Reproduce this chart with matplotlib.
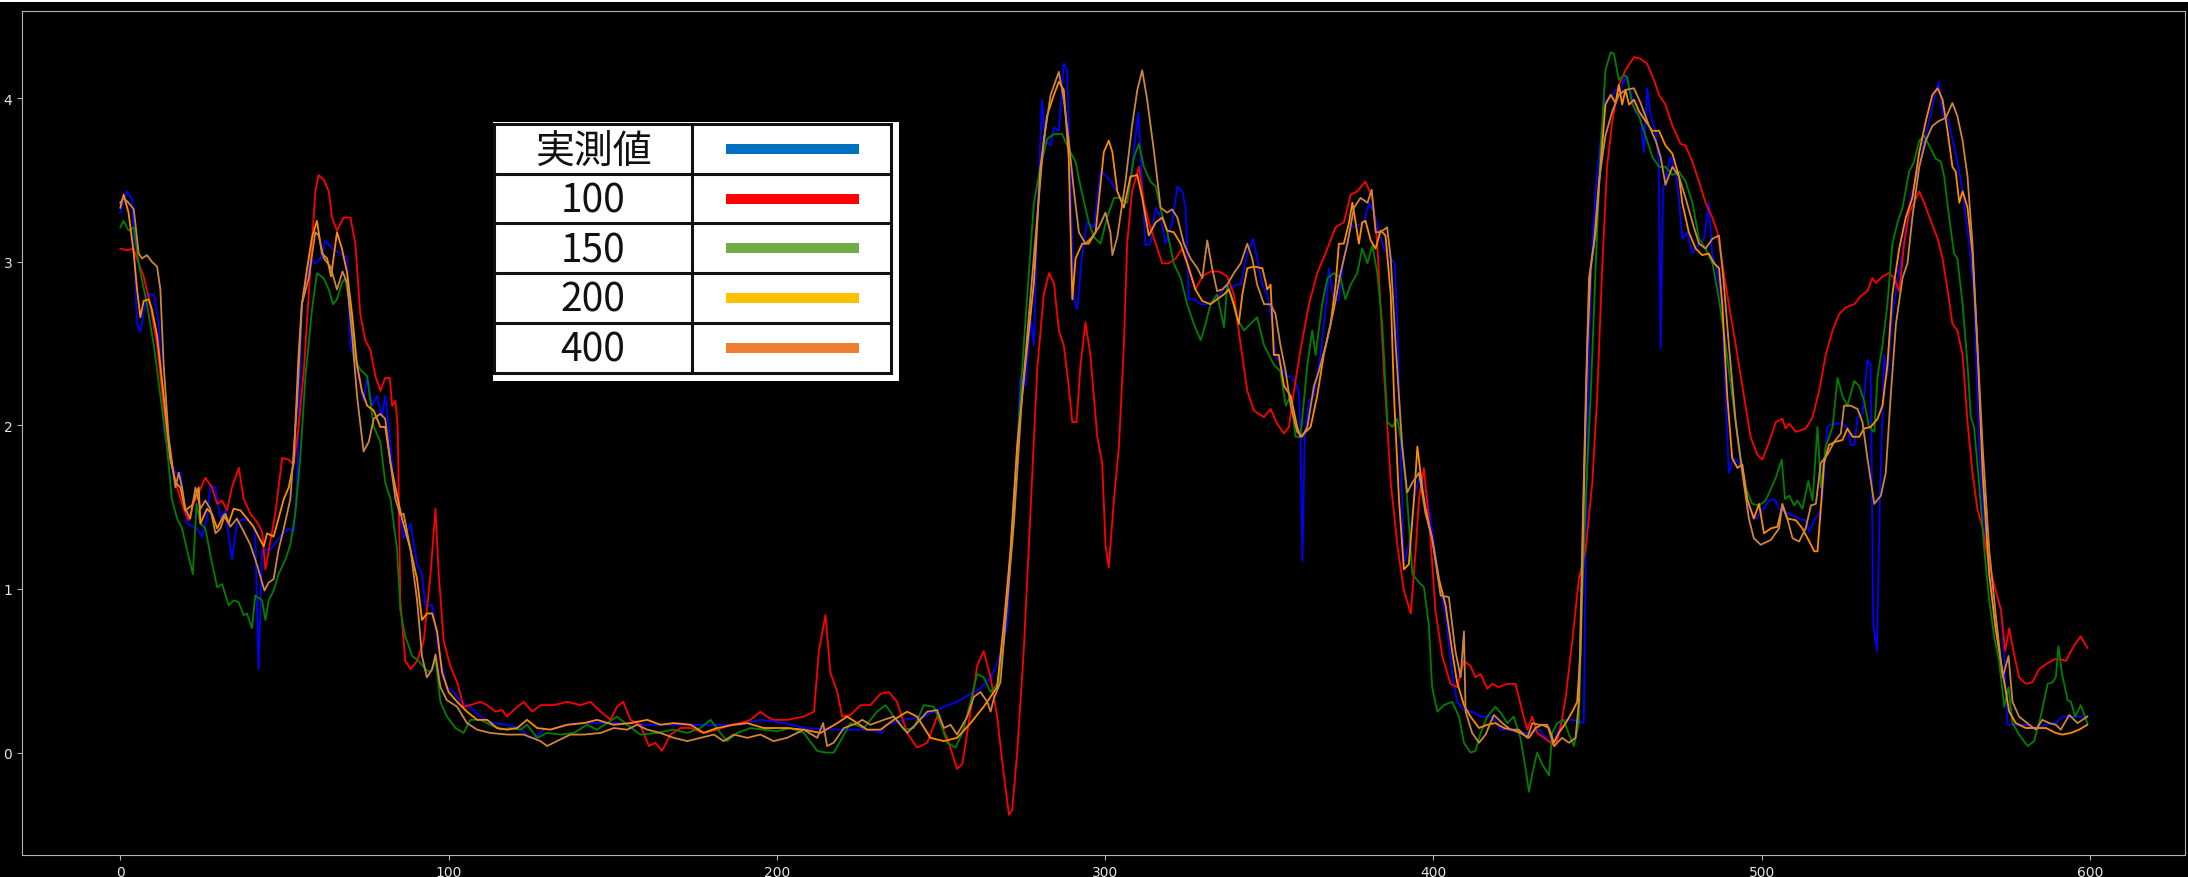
import matplotlib
matplotlib.use("Agg")
import matplotlib.pyplot as plt
from matplotlib.patches import Rectangle

# ---------------------------------------------------
# Data: (x, y) pairs per series
# ---------------------------------------------------
measured = [(0,3.30),(2,3.43),(3.6,3.38),(5.1,2.62),(6.1,2.57),(8.1,2.80),(10.2,2.80),(11.7,2.62),(13.2,1.99),(14.7,1.80),(16.8,1.71),(18.3,1.71),(20.3,1.40),(23.4,1.37),(24.9,1.32),(26.4,1.43),(27.4,1.63),(28.9,1.62),(30.5,1.43),(32,1.48),(34,1.18),(35.5,1.40),(37.6,1.43),(40.1,1.40),(41.1,1.34),(42.1,0.51),(43.2,1.24),(45.7,1.24),(48.7,1.32),(51.3,1.37),(52.8,1.35),(53.8,1.62),(55.3,2.74),(56.9,2.90),(57.9,3.02),(59.4,2.99),(61,3.02),(62.5,3.13),(64.5,3.08),(67,3.05),(69.1,3.02),(70.1,2.49),(72.1,2.34),(74.1,2.15),(75.2,2.30),(76.7,2.12),(78.2,2.18),(79.7,2.05),(80.7,2.18),(81.8,1.99),(83.3,1.65),(86.3,1.31),(88.4,1.40),(90.4,1.15),(91.9,1.09),(92.9,0.90),(95,0.90),(97,0.62),(99.5,0.40),(101.6,0.37),(103.6,0.31),(106.6,0.28),(109.7,0.22),(113.7,0.18),(117.8,0.17),(121.9,0.15),(124.4,0.09),(126.4,0.09),(129,0.14),(133,0.15),(138.1,0.18),(143.2,0.18),(148.3,0.18),(154.4,0.18),(160.5,0.17),(168.6,0.17),(178.8,0.17),(188.9,0.17),(195,0.20),(202.6,0.18),(208.2,0.15),(218.4,0.14),(228.5,0.14),(232.1,0.12),(233.1,0.17),(238.7,0.20),(244.8,0.22),(250.9,0.28),(254.9,0.31),(259,0.36),(262,0.39),(265.1,0.46),(267.1,0.54),(269.1,0.68),(270.2,0.78),(271.7,1.40),(273.2,1.87),(274.2,2.30),(275.7,2.24),(277.3,2.65),(278.3,2.49),(279.3,3.27),(280.8,3.99),(281.8,3.74),(283.4,3.71),(284.4,3.82),(285.9,3.80),(287.4,4.21),(288.4,4.17),(289.5,3.43),(290.5,2.77),(291.5,2.71),(293,3.05),(294.5,3.24),(296.6,3.21),(298.6,3.55),(300.6,3.52),(302.7,3.46),(304.7,3.39),(306.7,3.39),(308.2,3.58),(310.1,3.91),(311,3.58),(312.3,3.10),(313.8,3.11),(315.4,3.33),(316.9,3.27),(318.4,3.11),(320.4,3.24),(322,3.46),(323.5,3.43),(324.5,3.33),(325.5,2.77),(327,2.77),(329.1,2.74),(331.1,2.74),(333.1,2.77),(334.7,2.79),(336.7,2.86),(338.2,2.83),(339.7,2.86),(341.3,2.86),(343.3,3.05),(345.1,3.14),(346.3,3.02),(347.9,2.86),(349.4,2.80),(350.9,2.62),(351.9,2.43),(353.4,2.37),(355,2.30),(356.5,2.30),(358,2.26),(359,2.21),(359.5,1.93),(360.1,1.17),(360.8,1.93),(362.1,2.15),(363.6,2.18),(365.6,2.43),(367.2,2.71),(368.2,2.96),(369.7,2.76),(371.2,2.77),(372.7,3.02),(374.8,3.21),(376.8,3.22),(378.8,3.24),(380.4,3.36),(381.9,3.30),(383.4,3.18),(384.9,3.08),(387,3.02),(388.2,2.99),(389,2.62),(390,1.87),(391,1.15),(392.5,1.27),(394.1,1.55),(395.6,1.68),(397.6,1.62),(399.1,1.43),(400.6,1.21),(402.2,0.99),(403.7,0.84),(405.7,0.49),(407.2,0.31),(409.3,0.26),(411.8,0.25),(414.4,0.22),(417.9,0.22),(420.5,0.14),(423,0.14),(426,0.12),(429.1,0.12),(432.1,0.14),(435.2,0.07),(437.2,0.09),(439.2,0.20),(442.3,0.20),(445.8,0.18),(446.4,1.24),(447.4,2.49),(448.4,3.11),(449.4,3.43),(450.9,3.74),(452.4,3.99),(454,4.00),(455.5,4.05),(457,4.05),(458.5,4.13),(460,4.05),(461.6,3.91),(463.1,3.89),(464.1,3.67),(465.1,4.06),(466.2,3.89),(467.7,3.80),(468.7,3.58),(469.2,2.47),(469.9,3.43),(471.2,3.55),(472.2,3.64),(473.8,3.55),(474.8,3.39),(475.8,3.14),(477.3,3.18),(478.9,3.05),(480.9,3.11),(482.4,3.14),(483.9,3.36),(484.9,3.05),(486.5,2.93),(488,2.71),(489,2.18),(490,1.71),(491.5,1.80),(493.1,1.77),(494.6,1.68),(496.1,1.49),(498.2,1.43),(500.2,1.48),(502.3,1.54),(503.8,1.55),(505.3,1.49),(508.4,1.46),(511.4,1.43),(513.4,1.42),(514.5,1.35),(516,1.42),(517.5,1.46),(518.5,1.55),(520,1.99),(521.6,2.01),(524.1,2.01),(526.1,1.99),(527.1,1.88),(528.2,1.88),(529.2,2.05),(530.7,2.07),(532.2,2.40),(533.2,2.37),(534,0.78),(535.1,0.62),(536,1.55),(537.3,2.43),(538.3,2.30),(539.8,2.68),(541.4,2.90),(542.9,3.05),(544.4,3.29),(545.9,3.43),(548,3.58),(549.5,3.74),(551,3.86),(552.5,3.99),(554,4.10),(555.3,3.89),(556.6,3.88),(558.1,3.75),(559.6,3.61),(561.2,3.43),(563.2,3.11),(564.7,2.80),(566.2,1.87),(567.8,1.40),(569.3,1.09),(571.3,0.99),(572.9,0.87),(573.9,0.59),(574.9,0.17),(577.4,0.17),(580.5,0.17),(583.5,0.15),(586.6,0.17),(589.6,0.18),(591.6,0.22),(594.7,0.22),(597.2,0.22),(599.2,0.22)]

pred_100 = [(0,3.08),(2,3.07),(4,3.08),(5.6,2.99),(7.1,2.91),(9.1,2.74),(11.2,2.49),(13.2,2.12),(15.2,1.80),(17.3,1.62),(19.3,1.49),(20.8,1.42),(22.3,1.52),(23.9,1.59),(25.9,1.68),(27.9,1.62),(29.5,1.52),(31,1.54),(32.5,1.48),(34,1.62),(36.1,1.74),(37.6,1.55),(39.6,1.46),(41.6,1.41),(43.2,1.35),(44.2,1.12),(45.7,1.29),(47.2,1.46),(49.3,1.80),(51.3,1.79),(52.8,1.76),(54.3,1.99),(55.9,2.33),(57.9,2.96),(59.4,3.43),(60.4,3.53),(62,3.50),(63.5,3.43),(64.5,3.27),(66,3.19),(68,3.27),(70.1,3.27),(71.6,3.11),(73.1,2.68),(74.6,2.52),(76.2,2.46),(77.7,2.30),(79.2,2.21),(80.7,2.29),(82.1,2.29),(82.8,2.12),(83.8,2.15),(84.5,1.99),(85.3,0.93),(86.8,0.56),(88.4,0.51),(90.4,0.56),(92.4,0.68),(94.5,1.09),(96,1.49),(97,1.09),(98.5,0.68),(100.5,0.53),(102.6,0.43),(104.6,0.28),(106.6,0.29),(109.7,0.31),(111.7,0.29),(114.3,0.25),(116.3,0.26),(117.8,0.22),(119.8,0.26),(122.9,0.31),(125.4,0.25),(128,0.29),(132,0.29),(136.1,0.31),(140.2,0.29),(143.2,0.31),(146.3,0.25),(149.3,0.20),(151.3,0.28),(153.2,0.31),(155.4,0.20),(158.4,0.17),(161,0.04),(163,0.06),(165,0.01),(167.6,0.11),(170.6,0.15),(173.7,0.15),(177.7,0.12),(181.8,0.14),(185.9,0.17),(188.9,0.18),(192,0.20),(195,0.25),(197,0.22),(199,0.20),(203.1,0.20),(208.2,0.22),(211.3,0.25),(212.8,0.62),(214.8,0.84),(216.3,0.49),(218.4,0.37),(219.9,0.22),(222.4,0.23),(225.5,0.29),(228.5,0.29),(231.6,0.36),(234.1,0.37),(236.6,0.31),(239.7,0.12),(242.7,0.03),(245.8,0.06),(248.8,0.22),(251.9,0.09),(254.9,-0.10),(256.5,-0.07),(259,0.25),(261,0.53),(263,0.62),(265.1,0.46),(267.1,0.22),(269.1,-0.13),(270.7,-0.38),(271.7,-0.35),(273.2,0.0),(275.2,0.62),(277.3,1.49),(279.3,2.34),(281.3,2.80),(282.9,2.93),(284.4,2.87),(285.9,2.58),(287.4,2.49),(288.9,2.24),(290,2.02),(291.3,2.02),(292.5,2.37),(294,2.63),(295.5,2.43),(297.6,1.93),(299.1,1.77),(300.1,1.27),(301.1,1.13),(302.7,1.55),(304.2,1.87),(305.7,2.49),(306.7,3.11),(308.2,3.43),(310.3,3.58),(311.8,3.36),(313.3,3.24),(315.4,3.11),(317.4,2.99),(319.4,2.99),(321.5,3.02),(323.5,3.08),(325.5,2.96),(327.5,2.83),(329.6,2.91),(332.1,2.94),(334.7,2.94),(337.2,2.91),(339.2,2.80),(341.3,2.49),(343.3,2.21),(345.3,2.09),(348.4,2.05),(350.4,2.10),(352.4,2.01),(354.5,1.95),(356,1.99),(357.5,2.21),(359.5,2.46),(362.1,2.74),(364.6,2.93),(367.7,3.08),(370.2,3.21),(372.7,3.24),(374.8,3.41),(376.8,3.43),(379.3,3.49),(381.4,3.39),(382.9,3.11),(384.9,2.34),(387,1.65),(389,1.27),(391,0.99),(393.1,0.85),(394.6,1.24),(395.6,1.55),(397.1,1.74),(399.1,1.31),(400.6,0.87),(402.7,0.59),(405.2,0.42),(407.2,0.40),(409.3,0.56),(411.3,0.53),(412.8,0.46),(414.4,0.48),(416.4,0.39),(417.9,0.42),(419.9,0.40),(422.5,0.42),(425,0.42),(427.1,0.25),(428.6,0.14),(430.1,0.22),(431.6,0.12),(433.7,0.09),(435.7,0.06),(437.2,0.04),(438.7,0.15),(440.3,0.34),(442.3,0.68),(444.3,1.06),(446.4,1.24),(448.4,1.65),(449.9,2.18),(451.4,2.96),(452.9,3.58),(454.5,3.86),(456.5,4.08),(458.5,4.17),(461.1,4.25),(463.1,4.24),(465.1,4.21),(467.2,4.11),(468.7,4.02),(470.7,3.96),(472.8,3.83),(475.3,3.72),(476.8,3.71),(478.9,3.61),(480.9,3.49),(482.9,3.36),(485,3.27),(486.5,3.18),(488,2.99),(490,2.74),(492.1,2.49),(494.6,2.18),(496.6,1.93),(498.7,1.82),(500.2,1.79),(502.3,1.90),(504.3,2.02),(506.3,2.04),(507.3,1.98),(508.4,2.01),(510.4,1.96),(513.4,1.98),(515.5,2.05),(517.5,2.21),(519.5,2.43),(521.6,2.58),(523.6,2.68),(525.6,2.72),(528.2,2.74),(530.2,2.79),(532.2,2.82),(533.7,2.90),(534.8,2.87),(536.8,2.91),(538.8,2.93),(540.3,2.90),(541.9,2.82),(543.4,3.11),(544.9,3.30),(546.4,3.36),(548,3.43),(549.5,3.36),(551.5,3.25),(553.6,3.14),(555.1,3.02),(556.6,2.83),(558.1,2.62),(559.6,2.58),(561.2,2.43),(562.7,2.02),(564.2,1.71),(565.7,1.49),(567.3,1.37),(569.3,1.15),(571.3,0.99),(572.9,0.87),(574.2,0.62),(575.4,0.76),(576.9,0.60),(578.4,0.46),(580.5,0.42),(582.5,0.43),(584.5,0.51),(586.6,0.54),(589.1,0.57),(591.1,0.57),(592.7,0.56),(594.2,0.62),(595.7,0.67),(597.2,0.71),(599.2,0.64)]

pred_150 = [(0,3.21),(1,3.25),(2.5,3.19),(4.1,3.21),(5.6,2.99),(8.1,2.74),(10.2,2.49),(12.2,2.18),(14.2,1.87),(15.7,1.55),(17.3,1.43),(18.8,1.37),(20.3,1.24),(22.1,1.09),(23.2,1.52),(24.4,1.40),(25.9,1.37),(27.4,1.21),(29.5,1.01),(31,1.03),(33,0.90),(34.5,0.93),(36,0.92),(37.6,0.84),(38.6,0.85),(40.1,0.76),(41.1,0.96),(43.2,0.93),(44.2,0.81),(45.2,0.93),(46.7,0.99),(48.2,1.09),(50.3,1.18),(51.8,1.27),(53.3,1.46),(54.8,1.80),(56.4,2.30),(58.4,2.71),(59.9,2.93),(61.9,2.90),(63.5,2.83),(64.8,2.74),(66,2.77),(67.5,2.87),(68.5,2.90),(70.1,2.71),(71.6,2.40),(73.1,2.34),(75.2,2.30),(77.2,1.99),(79.2,1.90),(80.7,1.65),(82.3,1.55),(84.3,1.24),(85.3,0.87),(86.8,0.71),(88.9,0.59),(90.9,0.56),(92.9,0.51),(94.5,0.49),(96,0.57),(97.5,0.31),(99.5,0.22),(102.1,0.15),(104.6,0.12),(106.6,0.20),(109.7,0.20),(112.7,0.17),(115.8,0.14),(118.8,0.15),(121.9,0.14),(123.9,0.17),(127,0.09),(130,0.12),(134.1,0.11),(138.1,0.12),(142.2,0.17),(145.2,0.14),(148.3,0.18),(151.3,0.22),(154.4,0.17),(158.4,0.11),(163.5,0.12),(168.6,0.14),(172.7,0.12),(176.7,0.15),(179.8,0.20),(182.8,0.12),(184.8,0.07),(187.9,0.12),(192,0.15),(196,0.14),(200,0.13),(204.1,0.15),(208.2,0.12),(212.3,0.01),(214.8,0.0),(217.3,0.0),(219.9,0.09),(222.4,0.18),(226.5,0.15),(230.5,0.25),(233.1,0.29),(235.6,0.22),(238.7,0.14),(241.7,0.15),(244.8,0.29),(247.8,0.28),(249.9,0.18),(251.9,0.06),(254.4,0.03),(256.5,0.12),(259,0.31),(261,0.48),(263,0.46),(265.1,0.37),(267.6,0.43),(269.1,0.68),(271.2,1.24),(273.2,1.87),(275.2,2.49),(278.3,3.36),(280.3,3.58),(282.3,3.75),(284.4,3.78),(286.9,3.78),(288.9,3.69),(291,3.61),(292.5,3.46),(295,3.24),(296.6,3.15),(298.6,3.11),(300.6,3.27),(302.7,3.39),(304.7,3.39),(306.7,3.36),(308.8,3.64),(310.3,3.72),(311.8,3.58),(313.8,3.49),(315.4,3.46),(316.9,3.32),(318.9,3.18),(320.9,2.99),(323,2.90),(325,2.74),(327,2.62),(329.1,2.52),(330.6,2.62),(332.1,2.74),(334.1,2.80),(336.2,2.60),(337.2,2.86),(338.7,2.77),(340.2,2.65),(342.3,2.58),(344.3,2.62),(346.3,2.66),(348.4,2.49),(349.9,2.43),(351.4,2.37),(353.4,2.33),(355,2.12),(356.5,2.18),(358,1.93),(359.5,1.93),(361.6,2.37),(363.1,2.58),(364.1,2.43),(366.1,2.74),(367.7,2.90),(369.7,2.93),(371.7,2.90),(373.2,2.77),(374.8,2.86),(376.8,2.93),(378.3,3.08),(379.9,2.99),(381.4,3.10),(382.9,2.93),(384.4,2.62),(386,2.02),(387.5,1.99),(389,2.04),(390.5,1.87),(392,1.55),(393.6,1.09),(395.6,1.04),(397.1,1.01),(398.6,0.78),(399.6,0.40),(401.2,0.25),(403.2,0.29),(405.7,0.31),(407.8,0.22),(409.3,0.06),(411.3,0.0),(412.8,0.01),(414.4,0.12),(416.4,0.22),(418.9,0.28),(421,0.23),(422.5,0.18),(424.5,0.22),(426.5,0.09),(428.1,-0.10),(429.1,-0.24),(430.1,-0.13),(431.6,0.0),(433.1,-0.07),(435.2,-0.14),(436.2,0.12),(437.7,0.18),(439.7,0.20),(441.3,0.11),(442.8,0.04),(444.3,0.18),(445.3,0.93),(446.4,1.55),(447.9,2.18),(449.4,2.96),(450.9,3.67),(452.4,4.17),(454,4.28),(455,4.27),(456.5,4.11),(458,4.14),(459,4.13),(460.6,3.96),(462.6,3.89),(464.6,3.77),(466.7,3.64),(468.7,3.58),(470.7,3.58),(472.8,3.53),(474.8,3.55),(476.8,3.49),(478.9,3.36),(480.9,3.14),(482.9,3.08),(485,2.99),(487,2.77),(489,2.49),(491,2.18),(493,1.87),(495.1,1.62),(497.1,1.52),(499.2,1.51),(501.2,1.54),(502.3,1.59),(504.3,1.68),(506.1,1.79),(507.1,1.55),(508.4,1.57),(509.9,1.51),(510.9,1.54),(512.4,1.49),(514.2,1.66),(515.5,1.54),(517,1.99),(518,1.62),(519.5,1.87),(521.6,1.99),(523.1,2.29),(524.6,2.18),(526.1,2.12),(528.2,2.27),(529.7,2.24),(531.2,2.15),(532.7,1.99),(534.3,1.96),(535.3,2.30),(536.8,2.49),(538.3,2.74),(539.8,3.11),(541.4,3.24),(542.9,3.33),(544.9,3.55),(546.4,3.61),(548,3.74),(549.5,3.77),(551,3.71),(553,3.63),(554.6,3.61),(555.6,3.52),(557.1,3.27),(558.6,3.05),(559.6,3.02),(561.2,2.74),(562.7,2.37),(563.7,2.05),(564.7,1.99),(566.2,1.65),(567.8,1.24),(569.3,0.93),(570.8,0.71),(572.3,0.56),(573.9,0.28),(575.2,0.40),(576.4,0.18),(578.4,0.11),(581,0.04),(583,0.07),(585,0.22),(587.1,0.42),(588.6,0.43),(589.6,0.46),(590.4,0.65),(591.4,0.49),(593.2,0.32),(594.2,0.31),(595.5,0.22),(597.2,0.29),(599.2,0.18)]

pred_200 = [(0,3.33),(1,3.41),(2.5,3.30),(4.1,3.05),(5.1,2.83),(6.1,2.66),(7.1,2.76),(8.6,2.77),(9.6,2.71),(11.2,2.55),(13.2,2.18),(15.2,1.80),(16.8,1.65),(18.3,1.62),(19.8,1.48),(21.8,1.51),(23.9,1.62),(24.4,1.40),(26.4,1.49),(27.9,1.46),(29.5,1.37),(31.5,1.45),(33,1.40),(34.5,1.49),(36.6,1.48),(38.6,1.43),(40.6,1.38),(42.1,1.32),(43.7,1.26),(44.7,1.34),(46.7,1.32),(48.2,1.43),(49.8,1.55),(51.3,1.62),(52.8,1.77),(54.3,2.43),(55.3,2.74),(56.9,2.96),(58.4,3.15),(59.9,3.25),(61.4,3.05),(63,3.02),(64.2,2.91),(66,3.18),(67.5,3.08),(69.1,2.93),(70.6,2.68),(72.1,2.37),(73.6,2.21),(75.2,2.12),(77.2,2.09),(79.2,1.99),(80.7,1.99),(82.3,1.77),(83.8,1.62),(85.8,1.43),(88.4,1.24),(90.4,1.06),(91.9,0.81),(93.4,0.85),(95,0.85),(96.5,0.74),(98,0.49),(100,0.37),(102.6,0.31),(105.6,0.25),(108.7,0.20),(111.7,0.20),(114.8,0.15),(117.8,0.14),(120.9,0.15),(123.9,0.20),(127,0.15),(131,0.14),(136.1,0.17),(141.2,0.18),(145.2,0.20),(150.3,0.17),(155.4,0.18),(160.5,0.20),(164.5,0.17),(168.6,0.18),(173.7,0.17),(177.7,0.12),(181.8,0.15),(186.9,0.17),(191,0.18),(196,0.15),(203.1,0.15),(208.2,0.14),(213.3,0.12),(218.4,0.18),(221.4,0.22),(224.5,0.18),(227.5,0.14),(231.6,0.14),(235.6,0.20),(239.7,0.25),(242.7,0.22),(246.8,0.09),(250.9,0.07),(254.9,0.09),(259,0.18),(263,0.28),(267.1,0.40),(269.1,0.78),(271.2,1.24),(273.2,1.87),(275.7,2.37),(278.3,2.87),(280.3,3.58),(282.3,3.89),(284.4,4.02),(285.9,4.10),(287.4,4.05),(288.9,3.64),(290,2.77),(291,3.02),(293,3.11),(295,3.11),(297.1,3.18),(299.6,3.67),(301.1,3.74),(302.2,3.67),(303.7,3.43),(305.7,3.33),(307.7,3.52),(309.8,3.53),(311.3,3.39),(313.3,3.16),(315.4,3.24),(317.4,3.27),(318.9,3.19),(320.9,3.18),(323,3.11),(325,2.99),(327.5,2.83),(329.6,2.76),(332.1,2.74),(334.1,2.77),(336.2,2.80),(337.7,2.83),(339.2,2.74),(340.7,2.62),(341.8,2.80),(343.3,2.96),(345.3,2.97),(347.9,2.96),(349.4,2.83),(350.4,2.86),(351.4,2.43),(352.9,2.43),(354.5,2.24),(356.5,2.18),(358.5,1.99),(359.5,1.93),(361.1,1.96),(362.6,1.99),(364.6,2.18),(366.6,2.43),(368.7,2.62),(370.2,2.86),(371.2,3.11),(372.7,3.11),(374.3,3.24),(375.3,3.36),(376.3,3.24),(377.3,3.11),(378.3,3.24),(379.3,3.25),(380.9,3.13),(382.4,3.08),(383.9,3.19),(385.4,3.16),(387,2.80),(388,2.18),(389.5,1.55),(391,1.12),(392.5,1.15),(394.1,1.55),(395.1,1.87),(396.6,1.62),(397.6,1.49),(399.6,1.31),(401.7,1.06),(403.7,0.90),(405.7,0.62),(407.2,0.43),(409.3,0.29),(411.3,0.22),(413.9,0.15),(416.4,0.17),(418.9,0.18),(421.5,0.15),(424,0.14),(426.5,0.12),(429.1,0.09),(431.1,0.15),(433.1,0.17),(435.2,0.15),(436.7,0.06),(438.2,0.12),(440.3,0.18),(442.3,0.25),(443.8,0.31),(444.8,0.62),(445.8,1.55),(446.9,2.49),(447.9,2.96),(449.4,3.18),(450.9,3.58),(452.4,3.96),(454,4.02),(455.5,3.97),(456.5,4.08),(457.5,3.96),(458.5,4.05),(459.6,3.96),(461.1,3.99),(462.6,3.92),(464.6,3.86),(466.7,3.80),(468.7,3.80),(470.7,3.71),(472.8,3.66),(474.8,3.52),(475.8,3.36),(477.8,3.18),(479.9,3.08),(481.9,3.04),(483.9,3.05),(485.5,2.99),(487,2.96),(488,2.74),(489.5,2.18),(491,1.80),(492.6,1.74),(494.1,1.76),(495.6,1.55),(497.6,1.43),(499.2,1.52),(500.7,1.34),(502.8,1.37),(504.8,1.38),(506.3,1.51),(507.8,1.43),(510.4,1.42),(512.4,1.37),(514.5,1.29),(516,1.23),(517,1.23),(518,1.49),(519,1.77),(520.5,1.88),(522.6,1.90),(524.6,1.91),(526.1,1.98),(527.7,1.93),(529.7,1.93),(531.2,1.98),(533.2,1.99),(535.3,2.04),(536.8,2.12),(538.3,2.37),(539.8,2.80),(541.9,3.08),(543.9,3.27),(545.9,3.39),(548,3.67),(550,3.86),(552,4.02),(553.6,4.06),(555.1,3.99),(556.6,3.80),(558.1,3.58),(559.1,3.55),(560.2,3.36),(561.2,3.43),(562.7,3.33),(564.2,3.05),(565.7,2.49),(567.3,1.71),(569.3,1.09),(571.3,0.75),(573.4,0.49),(575.4,0.25),(577.4,0.18),(580.5,0.15),(583.5,0.15),(586.6,0.15),(589.6,0.12),(591.6,0.11),(594.2,0.12),(596.7,0.14),(599.2,0.17)]

pred_400 = [(0,3.36),(1,3.39),(2.5,3.36),(4.1,3.32),(5.6,3.05),(6.6,3.02),(8.1,3.04),(9.6,3.00),(11.2,2.97),(12.2,2.83),(13.2,2.37),(14.7,1.93),(16.8,1.62),(17.8,1.71),(18.8,1.62),(19.8,1.49),(21.3,1.43),(22.9,1.62),(24.4,1.49),(25.9,1.54),(27.4,1.49),(29,1.34),(30.5,1.37),(32,1.46),(33.5,1.38),(35.5,1.43),(37.6,1.35),(39.6,1.27),(41.6,1.15),(43.9,0.99),(45.2,1.04),(46.7,1.06),(48.2,1.24),(49.8,1.37),(51.8,1.55),(53.8,2.12),(55.3,2.74),(57.4,2.90),(59.4,3.18),(60.4,3.16),(62,3.02),(64,2.97),(66,2.83),(67.7,2.94),(69.1,2.87),(70.6,2.55),(72.1,2.18),(74.1,1.84),(75.7,1.90),(77.2,2.04),(79.2,2.07),(80.7,2.04),(82.3,1.77),(83.8,1.55),(85.3,1.45),(86.3,1.46),(88.4,1.24),(90.4,0.93),(91.9,0.59),(93.4,0.46),(95,0.51),(96,0.60),(97.5,0.40),(99.5,0.32),(102.6,0.28),(105.6,0.18),(108.7,0.14),(112.7,0.12),(117.8,0.11),(122.9,0.11),(128,0.07),(130,0.04),(133,0.07),(137.1,0.11),(141.2,0.11),(146.3,0.12),(150.3,0.15),(154.4,0.14),(157.4,0.17),(160.5,0.14),(164.5,0.12),(168.6,0.09),(172.7,0.07),(176.7,0.09),(180.8,0.11),(183.8,0.07),(186.9,0.11),(191,0.09),(195,0.11),(199,0.07),(203.1,0.09),(208.2,0.14),(212.3,0.09),(214.1,0.18),(215.3,0.04),(217.3,0.06),(220.4,0.15),(224.5,0.18),(226,0.20),(228.5,0.17),(232.6,0.20),(235.6,0.22),(239.7,0.12),(242.7,0.18),(245.8,0.25),(248.8,0.26),(250.9,0.15),(252.9,0.17),(254.9,0.11),(258,0.22),(260,0.34),(262,0.37),(264.1,0.31),(265.1,0.25),(266.1,0.33),(268.1,0.43),(270.2,0.93),(272.2,1.40),(274.7,2.18),(277.3,2.80),(279.3,3.27),(281.3,3.74),(283.4,4.02),(285.9,4.16),(287.4,3.99),(288.9,3.74),(290.5,3.43),(292,3.18),(294,3.11),(296,3.15),(298.1,3.21),(300.1,3.30),(301.6,3.18),(302.2,3.04),(303.7,3.15),(306.2,3.49),(308.2,3.83),(309.8,4.05),(311.3,4.17),(312.8,3.99),(314.9,3.67),(316.9,3.33),(318.9,3.30),(320.4,3.32),(322,3.27),(324,3.11),(326,3.02),(328.1,2.96),(329.6,2.90),(331.1,3.13),(332.6,2.96),(334.1,2.82),(335.7,2.83),(337.2,2.86),(339.2,2.93),(341.3,2.99),(343.3,3.11),(344.8,3.02),(346.3,2.86),(348.4,2.74),(350.4,2.74),(351.9,2.68),(353.4,2.49),(355,2.33),(356.5,2.12),(358.5,1.96),(360,1.93),(361.6,1.99),(363.6,2.24),(365.1,2.33),(367.2,2.49),(369.7,2.71),(371.7,2.93),(373.8,3.11),(375.8,3.33),(377.8,3.39),(379.9,3.36),(381.2,3.44),(382.4,3.18),(383.9,3.18),(385.9,3.21),(387,3.02),(388.5,2.49),(390.5,1.87),(392,1.59),(393.6,1.65),(395.6,1.71),(397.6,1.46),(399.6,1.31),(402.2,0.96),(404.7,0.95),(406.7,0.62),(408.3,0.46),(409.3,0.74),(409.8,0.25),(411.8,0.12),(413.9,0.06),(415.9,0.11),(418.4,0.23),(421,0.18),(423.5,0.14),(426,0.14),(428.6,0.09),(430.1,0.18),(432.1,0.17),(434.7,0.17),(436.7,0.04),(439.2,0.09),(441.3,0.06),(443.3,0.09),(444.3,0.31),(445.3,1.24),(446.4,2.18),(447.4,2.90),(448.9,3.11),(450.4,3.49),(452.4,3.77),(454.5,3.92),(456.5,4.02),(458.5,4.05),(461.1,4.06),(463.1,3.97),(465.7,3.83),(467.7,3.74),(469.2,3.64),(470.7,3.47),(472.8,3.58),(474.8,3.52),(476.8,3.39),(478.9,3.24),(480.9,3.11),(482.9,3.08),(485,3.14),(487,3.16),(488.5,2.86),(490,2.49),(492.1,2.02),(494.1,1.71),(496.1,1.43),(497.6,1.31),(499.7,1.27),(502.8,1.30),(505.3,1.37),(506.3,1.52),(507.8,1.43),(509.4,1.31),(511.4,1.29),(513.4,1.37),(515,1.51),(516.5,1.52),(518,1.77),(520,1.82),(522.1,1.90),(524.1,1.95),(525.1,2.12),(527.1,2.12),(529.2,2.10),(530.7,2.02),(532.2,1.80),(534.3,1.52),(536.3,1.57),(537.8,1.71),(539.3,2.18),(540.9,2.62),(542.9,2.90),(544.4,2.99),(545.9,3.27),(548,3.58),(550,3.74),(552,3.83),(554,3.86),(556.1,3.88),(558.1,3.97),(559.6,3.89),(561.2,3.74),(562.7,3.52),(564.2,3.11),(565.7,2.49),(567.3,1.87),(569.3,1.24),(571.3,0.84),(573.4,0.46),(575.2,0.59),(576.4,0.31),(578.4,0.22),(581.5,0.17),(583.5,0.14),(585.5,0.20),(587.6,0.18),(589.6,0.17),(591.1,0.14),(593.7,0.23),(596.2,0.18),(599.2,0.22)]

# plot colours of the five series (drawing order)
series = [measured, pred_100, pred_150, pred_200, pred_400]
line_colors = ["blue", "red", "green", "darkorange", "peru"]

# legend table (pasted-in picture in the original)
legend_labels = ["実測値", "100", "150", "200", "400"]
legend_colors = ["#0070C0", "#FF0000", "#70AD47", "#FFC000", "#ED7D31"]

# ---------------------------------------------------
# Figure
# ---------------------------------------------------
W, H = 2188, 878
fig = plt.figure(figsize=(W / 100, H / 100), dpi=100, facecolor="black")
ax = fig.add_axes([22 / W, 1 - 856 / H, (2185 - 22) / W, (856 - 12) / H])
ax.set_facecolor("black")

for pts, c in zip(series, line_colors):
    xs = [p[0] for p in pts]
    ys = [p[1] for p in pts]
    ax.plot(xs, ys, color=c, lw=1.3)

ax.set_xlim(-29.95, 628.95)
ax.set_ylim(-0.626, 4.532)
ax.set_xticks([0, 100, 200, 300, 400, 500, 600])
ax.set_yticks([0, 1, 2, 3, 4])
for s in ax.spines.values():
    s.set_color("#b5b5b5")
ax.tick_params(colors="#b5b5b5", labelcolor="#e6e6e6", labelsize=10, length=3.5)

# ---------------------------------------------------
# Overlay in pixel coords for the legend table
# ---------------------------------------------------
ov = fig.add_axes([0, 0, 1, 1], zorder=5)
ov.set_xlim(0, W)
ov.set_ylim(H, 0)
ov.axis("off")
ov.patch.set_alpha(0)

# thin white strip along the top edge of the screenshot
ov.add_patch(Rectangle((0, 0), W, 3, facecolor="white", edgecolor="none"))

t_left, t_right, t_top = 494, 891, 125
row_h = 49.7
col_split = 692
t_bottom = t_top + row_h * len(legend_labels)

ov.add_patch(Rectangle((t_left - 1, t_top - 2), 899 - t_left + 1, 382 - t_top + 2,
                       facecolor="white", edgecolor="none"))
ov.add_patch(Rectangle((t_left, t_top), t_right - t_left, t_bottom - t_top,
                       facecolor="white", edgecolor="#111111", lw=2.2))
ov.plot([col_split, col_split], [t_top, t_bottom], color="#111111", lw=2.2)
for i in range(1, len(legend_labels)):
    yy = t_top + row_h * i
    ov.plot([t_left, t_right], [yy, yy], color="#111111", lw=2.2)

for i, (lab, col) in enumerate(zip(legend_labels, legend_colors)):
    yc = t_top + row_h * (i + 0.5)
    ov.text((t_left + col_split) / 2, yc + 2, lab, ha="center", va="center",
            fontsize=28, color="#111111",
            family=["Noto Sans CJK JP", "DejaVu Sans"])
    ov.plot([726, 859], [yc, yc], color=col, lw=7.2, solid_capstyle="butt")

fig.savefig("out.png", dpi=100, facecolor="black")
